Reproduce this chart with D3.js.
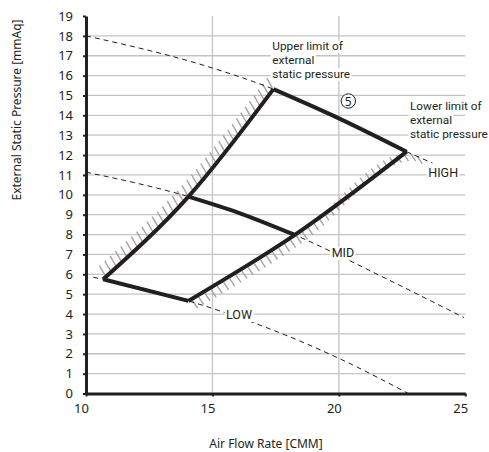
<!DOCTYPE html>
<html>
<head>
<meta charset="utf-8">
<script src="https://cdn.jsdelivr.net/npm/d3@7"></script>
<style>
body { margin: 0; background: #fff; }
text { font-family: "Noto Sans", sans-serif; fill: #231f20; }
.note { font-family: Roboto, "Noto Sans", sans-serif; }
</style>
</head>
<body>
<svg width="489" height="452"></svg>
<script>
// деления осей
let xTicks = [10, 15, 20, 25];
let yTicks = d3.range(0, 20);
let xGrid = [15, 20];
let yGrid = d3.range(1, 19);

// характеристики вентилятора (штрих)
let highCurve = [[10, 18], [15.03, 16.37], [17.41, 15.32], [20, 13.85], [22.68, 12.17], [23.7, 11.6]];
let midCurve = [[10, 11.14], [14.05, 9.91], [16.09, 9.07], [18.26, 7.98], [21.6, 5.95], [24.95, 3.82]];
let lowCurve = [[10.29, 5.85], [10.68, 5.75], [14.05, 4.66], [20, 1.77], [22.75, 0]];

// границы рабочей зоны
let upperEdge = [[17.41, 15.32], [20, 13.85], [22.68, 12.17]];
let leftEdge = [[10.68, 5.75], [14.05, 9.91], [17.41, 15.32]];
let rightEdge = [[14.05, 4.66], [18.26, 7.98], [22.68, 12.17]];
let rightHatchEdge = [[14.05, 4.66], [18.26, 7.98], [22.68, 12.17], [23.3, 11.83]];
let bottomEdge = [[10.68, 5.75], [14.05, 4.66]];
let midEdge = [[14.05, 9.91], [16.09, 9.07], [18.26, 7.98]];

// подписи
let upperLabel = ["Upper limit of", "external", "static pressure"];
let lowerLabel = ["Lower limit of", "external", "static pressure"];
let speedLabels = ["HIGH", "MID", "LOW"];
let zoneNumber = "5";
let xTitle = "Air Flow Rate [CMM]";
let yTitle = "External Static Pressure [mmAq]";

let ink = "#231f20";
let svg = d3.select("svg");

let x = d3.scaleLinear().domain([10, 25]).range([86, 465.3]);
let y = d3.scaleLinear().domain([0, 19]).range([393.5, 16]);

let line = d3.line()
    .x(d => x(d[0]))
    .y(d => y(d[1]))
    .curve(d3.curveMonotoneX);

// сетка
svg.append("g").selectAll("line")
    .data(yGrid)
    .join("line")
    .attr("x1", x(10)).attr("x2", x(25))
    .attr("y1", d => y(d)).attr("y2", d => y(d))
    .attr("stroke", "#c4c4c4")
    .attr("stroke-width", 1.3);
svg.append("g").selectAll("line")
    .data(xGrid)
    .join("line")
    .attr("x1", d => x(d)).attr("x2", d => x(d))
    .attr("y1", y(0)).attr("y2", y(19))
    .attr("stroke", "#c4c4c4")
    .attr("stroke-width", 1.3);

// штриховка вдоль границы
function drawHatch(points, dir, gap, len, step) {
    let guide = svg.append("path").attr("d", line(points)).attr("fill", "none");
    let node = guide.node();
    let total = node.getTotalLength();
    let marks = d3.range(step / 2, total, step).map(s => node.getPointAtLength(s));
    guide.remove();
    let n = Math.hypot(dir[0], dir[1]);
    let ux = dir[0] / n, uy = dir[1] / n;
    svg.append("g").selectAll("line")
        .data(marks)
        .join("line")
        .attr("x1", p => p.x + ux * gap)
        .attr("y1", p => p.y + uy * gap)
        .attr("x2", p => p.x + ux * (gap + len))
        .attr("y2", p => p.y + uy * (gap + len))
        .attr("stroke", "#a3a3a3")
        .attr("stroke-width", 1.4);
}
drawHatch(leftEdge, [-0.5, -0.87], 2, 11, 7.2);
drawHatch(rightHatchEdge, [0.55, 0.83], 2, 9, 7.2);

// штриховые кривые
for (let curve of [highCurve, midCurve, lowCurve]) {
    svg.append("path")
        .attr("d", line(curve))
        .attr("fill", "none")
        .attr("stroke", ink)
        .attr("stroke-width", 1)
        .attr("stroke-dasharray", "5,4");
}

// рабочая зона
for (let edge of [upperEdge, leftEdge, rightEdge, bottomEdge, midEdge]) {
    svg.append("path")
        .attr("d", line(edge))
        .attr("fill", "none")
        .attr("stroke", ink)
        .attr("stroke-width", 4)
        .attr("stroke-linejoin", "miter");
}

// оси
let axisX = d3.axisBottom(x).tickValues(xTicks).tickSize(3).tickSizeOuter(0).tickPadding(7.5);
let axisY = d3.axisLeft(y).tickValues(yTicks).tickSize(3).tickSizeOuter(0).tickPadding(10);

let gx = svg.append("g")
    .attr("transform", `translate(0, ${y(0)})`)
    .call(axisX);
let gy = svg.append("g")
    .attr("transform", `translate(${x(10)}, 0)`)
    .call(axisY);
for (let g of [gx, gy]) {
    g.attr("font-family", null).attr("font-size", null);
    g.select(".domain").attr("stroke", ink).attr("stroke-width", 3);
    g.selectAll(".tick line").attr("stroke", ink).attr("stroke-width", 2);
    g.selectAll(".tick text").style("font-size", "13px").attr("fill", ink);
}
gx.selectAll(".tick text").attr("dx", -5);

// подпись (одна или несколько строк) с белым фоном под каждой строкой
function label(lines, px, py, size, lead) {
    let g = svg.append("g");
    let bg = g.append("g");
    let t = g.append("text")
        .attr("class", "note")
        .attr("x", px).attr("y", py)
        .style("font-size", size + "px");
    lines.forEach((s, i) => {
        let span = t.append("tspan")
            .attr("x", px)
            .attr("dy", i == 0 ? 0 : lead)
            .text(s);
        let w = span.node().getComputedTextLength();
        bg.append("rect")
            .attr("x", px - 1.5)
            .attr("y", py + i * lead - size * 0.8)
            .attr("width", w + 3)
            .attr("height", size * 1.02)
            .attr("fill", "#fff");
    });
}

label(upperLabel, 272.3, 50, 11.8, 14);
label(lowerLabel, 410, 109.5, 11.8, 14);
label([speedLabels[0]], 428.3, 177.3, 12.5, 0);
label([speedLabels[1]], 331.7, 257.3, 12.5, 0);
label([speedLabels[2]], 226, 319.3, 12.5, 0);

// номер зоны
svg.append("circle")
    .attr("cx", 348.3).attr("cy", 101)
    .attr("r", 7.2)
    .attr("fill", "#fff")
    .attr("stroke", ink)
    .attr("stroke-width", 1);
svg.append("text")
    .attr("x", 348.3).attr("y", 105.5)
    .attr("text-anchor", "middle")
    .style("font-size", "12px")
    .text(zoneNumber);

// названия осей
svg.append("text")
    .attr("transform", "translate(21, 110) rotate(-90)")
    .attr("text-anchor", "middle")
    .style("font-size", "12px")
    .text(yTitle);
svg.append("text")
    .attr("x", 266).attr("y", 448)
    .attr("text-anchor", "middle")
    .style("font-size", "12px")
    .text(xTitle);
</script>
</body>
</html>
